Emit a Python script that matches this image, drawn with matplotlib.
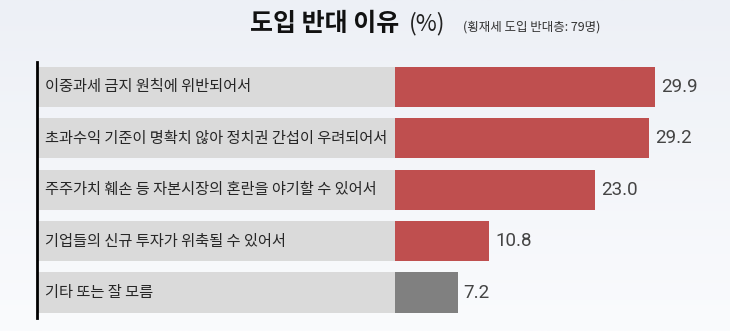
import matplotlib
matplotlib.use("Agg")
import matplotlib.pyplot as plt
import numpy as np
from matplotlib.colors import LinearSegmentedColormap

plt.rcParams['font.family'] = ['Noto Sans CJK KR', 'DejaVu Sans']

categories = [
    "이중과세 금지 원칙에 위반되어서",
    "초과수익 기준이 명확치 않아 정치권 간섭이 우려되어서",
    "주주가치 훼손 등 자본시장의 혼란을 야기할 수 있어서",
    "기업들의 신규 투자가 위축될 수 있어서",
    "기타 또는 잘 모름",
]
values = [29.9, 29.2, 23.0, 10.8, 7.2]
bar_colors = ["#bf4f4f", "#bf4f4f", "#bf4f4f", "#bf4f4f", "#808080"]
title = "도입 반대 이유"
title_unit = "(%)"
subtitle = "(횡재세 도입 반대층: 79명)"

W, H = 730, 331
fig = plt.figure(figsize=(W / 100, H / 100), dpi=100)

# background gradient
bg = fig.add_axes([0, 0, 1, 1])
grad = np.linspace(0, 1, 256).reshape(-1, 1)
cmap = LinearSegmentedColormap.from_list("bg", ["#edf0f6", "#fafbfd"])
bg.imshow(grad, aspect='auto', cmap=cmap, extent=[0, 1, 0, 1], origin='upper')
bg.axis('off')

# main axes (pixel layout)
left_px, right_px, top_px, bot_px = 37, 730, 62, 318
ax = fig.add_axes([left_px / W, 1 - bot_px / H, (right_px - left_px) / W, (bot_px - top_px) / H])
ax.patch.set_alpha(0)

zero_px = 395
scale = 8.70  # px per unit
xmin = -(zero_px - left_px) / scale
xmax = (right_px - zero_px) / scale
ax.set_xlim(xmin, xmax)

y = np.arange(len(categories))
ax.set_ylim(len(categories) - 1 + 0.496, -0.486)

label_w = -xmin
ax.barh(y, [label_w] * len(y), left=xmin, height=0.78, color="#dadada", zorder=1)
ax.barh(y, values, left=0, height=0.78, color=bar_colors, zorder=2)

for yi, cat, v in zip(y, categories, values):
    ax.text(xmin + 8 / scale, yi, cat, va='center', ha='left', fontsize=11,
            color='#262626', zorder=3)
    ax.text(v + 6 / scale, yi, f"{v:.1f}", va='center', ha='left', fontsize=13.5,
            color='#444444', family=['Roboto', 'DejaVu Sans'], zorder=3)

for s in ['top', 'right', 'bottom']:
    ax.spines[s].set_visible(False)
ax.spines['left'].set_color('black')
ax.spines['left'].set_linewidth(2)
ax.set_xticks([])
ax.set_yticks([])

# title
ty = 1 - 24 / H
fig.text(250 / W, ty, title, fontsize=18, fontweight='bold', va='center', ha='left', color='#111111')
fig.text(409 / W, ty, title_unit, fontsize=16.5, va='center', ha='left', color='#222222')
fig.text(463 / W, ty - 3 / H, subtitle, fontsize=9, va='center', ha='left', color='#333333')

fig.savefig("out.png", dpi=100)
